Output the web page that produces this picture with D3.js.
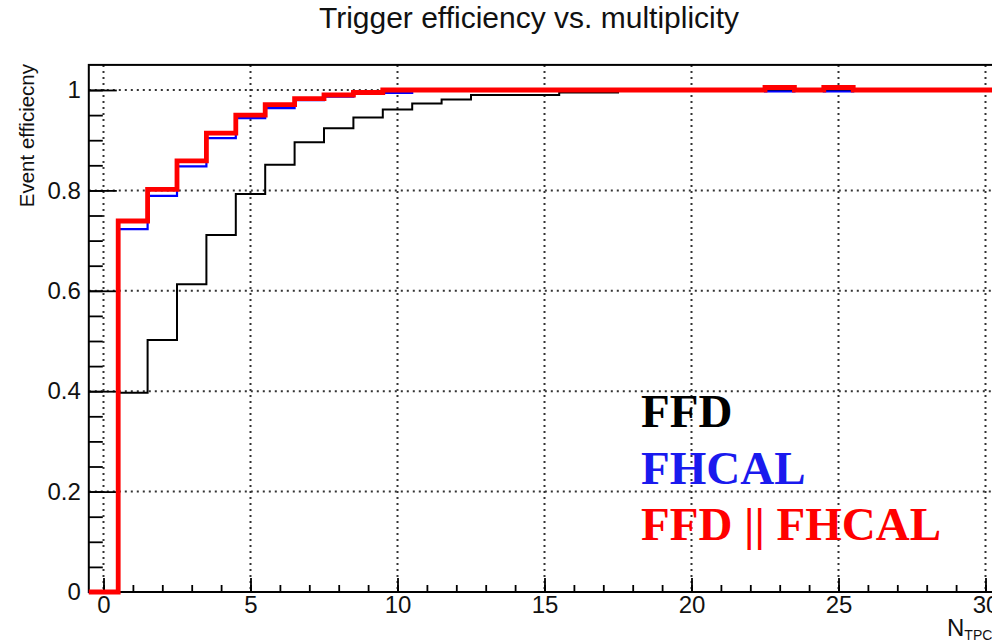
<!DOCTYPE html>
<html>
<head>
<meta charset="utf-8">
<script src="https://cdn.jsdelivr.net/npm/d3@7"></script>
<style>
  html, body { margin: 0; padding: 0; background: #fff; overflow: hidden; }
  svg { display: block; }
</style>
</head>
<body>
<svg id="chart" width="992" height="642"></svg>
<script>
// ---- data ----
const bins = d3.range(0, 31); // N_TPC bin centers 0..30 (bin width 1)
const ffd = [0, 0.397, 0.502, 0.613, 0.711, 0.793, 0.851, 0.896, 0.924, 0.945, 0.961,
  0.973, 0.981, 0.990, 0.990, 0.990, 0.995, 0.995, 1, 1, 1,
  1, 1, 1, 1, 1, 1, 1, 1, 1, 1];
const fhcal = [0, 0.723, 0.789, 0.848, 0.904, 0.944, 0.964, 0.980, 0.987, 0.992, 0.994,
  1, 1, 1, 1, 1, 1, 1, 1, 1, 1,
  1, 1, 0.997, 1, 0.997, 1, 1, 1, 1, 1];
const ffdOrFhcal = [0, 0.739, 0.802, 0.859, 0.914, 0.950, 0.971, 0.983, 0.990, 0.995, 1,
  1, 1, 1, 1, 1, 1, 1, 1, 1, 1,
  1, 1, 1.005, 1, 1.005, 1, 1, 1, 1, 1];
const xTicks = [0, 5, 10, 15, 20, 25, 30];
const xTickLabels = ["0", "5", "10", "15", "20", "25", "30"];
const yTicks = [0, 0.2, 0.4, 0.6, 0.8, 1];
const yTickLabels = ["0", "0.2", "0.4", "0.6", "0.8", "1"];
const legendNames = ["FFD", "FHCAL", "FFD || FHCAL"];
const titleText = "Trigger efficiency vs. multiplicity";
const yTitle = "Event efficiecny";

// ---- layout ----
const svg = d3.select("#chart");
const x = d3.scaleLinear().domain([0, 30]).range([103.5, 985.5]);
const y = d3.scaleLinear().domain([0, 1]).range([592, 90]);
const xLo = -0.5, xHi = 30.5, yTop = 1.05;
const sans = "'Liberation Sans', Arial, Helvetica, sans-serif";
const serif = "'Liberation Serif', 'Times New Roman', Times, serif";

// grid (dotted)
const grid = svg.append("g").attr("stroke", "#333").attr("stroke-width", 2)
  .attr("stroke-dasharray", "2,4").attr("fill", "none");
grid.selectAll("line.gx").data(xTicks).join("line").attr("class", "gx")
  .attr("x1", d => x(d)).attr("x2", d => x(d))
  .attr("y1", y(yTop)).attr("y2", y(0));
grid.selectAll("line.gy").data(yTicks.filter(d => d > 0)).join("line").attr("class", "gy")
  .attr("x1", x(xLo)).attr("x2", x(xHi))
  .attr("y1", d => y(d)).attr("y2", d => y(d));

// axes
const font = (g, size) => g.selectAll("text").attr("font-family", sans).attr("font-size", size).attr("fill", "#111");

// y minor
svg.append("g").attr("transform", `translate(${x(xLo)},0)`)
  .call(d3.axisLeft(y).tickValues(d3.range(0, 1.0001, 0.05)).tickSizeInner(-14).tickSizeOuter(0).tickFormat(""))
  .call(g => g.select(".domain").remove())
  .call(g => g.selectAll("line").attr("stroke", "#000").attr("stroke-width", 1.8));
// y major
svg.append("g").attr("transform", `translate(${x(xLo)},0)`)
  .call(d3.axisLeft(y).tickValues(yTicks).tickSizeInner(-28).tickSizeOuter(0).tickPadding(8)
    .tickFormat((d, i) => yTickLabels[i]))
  .call(g => g.select(".domain").remove())
  .call(g => g.selectAll("line").attr("stroke", "#000").attr("stroke-width", 1.8))
  .call(g => font(g, 24));
// x minor
svg.append("g").attr("transform", `translate(0,${y(0)})`)
  .call(d3.axisBottom(x).tickValues(d3.range(0, 31, 1)).tickSizeInner(-7).tickSizeOuter(0).tickFormat(""))
  .call(g => g.select(".domain").remove())
  .call(g => g.selectAll("line").attr("stroke", "#000").attr("stroke-width", 1.8));
// x major
svg.append("g").attr("transform", `translate(0,${y(0)})`)
  .call(d3.axisBottom(x).tickValues(xTicks).tickSizeInner(-14).tickSizeOuter(0).tickPadding(4)
    .tickFormat((d, i) => xTickLabels[i]))
  .call(g => g.select(".domain").remove())
  .call(g => g.selectAll("line").attr("stroke", "#000").attr("stroke-width", 1.8))
  .call(g => font(g, 24));

// frame
svg.append("rect")
  .attr("x", x(xLo)).attr("y", y(yTop))
  .attr("width", x(xHi) - x(xLo)).attr("height", y(0) - y(yTop))
  .attr("fill", "none").attr("stroke", "#000").attr("stroke-width", 2);

// histograms as steps
const line = d3.line().x(d => x(d[0])).y(d => y(d[1])).curve(d3.curveStepAfter);
function pts(vals) {
  const p = bins.map((b, i) => [b - 0.5, vals[i]]);
  p.push([bins[bins.length - 1] + 0.5, vals[vals.length - 1]]);
  return p;
}
const series = [
  { vals: ffd, color: "#000000", w: 2 },
  { vals: fhcal, color: "#0000ff", w: 2.2 },
  { vals: ffdOrFhcal, color: "#ff0000", w: 4.8 }
];
svg.append("g").selectAll("path").data(series).join("path")
  .attr("d", d => line(pts(d.vals)))
  .attr("fill", "none").attr("stroke", d => d.color).attr("stroke-width", d => d.w)
  .attr("stroke-linejoin", "miter").attr("stroke-linecap", "butt");

// title
svg.append("text").attr("x", 529).attr("y", 28).attr("text-anchor", "middle")
  .attr("font-family", sans).attr("font-size", 30).attr("fill", "#111").text(titleText);

// y title
svg.append("text").attr("transform", "translate(34,64) rotate(-90)")
  .attr("text-anchor", "end").attr("font-family", sans).attr("font-size", 20.5)
  .attr("fill", "#111").text(yTitle);

// x title
const xt = svg.append("text").attr("x", 947).attr("y", 636)
  .attr("font-family", sans).attr("font-size", 24).attr("fill", "#111");
xt.append("tspan").text("N");
xt.append("tspan").attr("font-size", 14).attr("dy", 4).text("TPC");

// legend
const legendColors = ["#000000", "#1a1aee", "#ff0000"];
svg.append("g").selectAll("text").data(legendNames).join("text")
  .attr("x", 641).attr("y", (d, i) => 427 + i * 56.7)
  .attr("font-family", serif).attr("font-weight", "bold").attr("font-size", 47)
  .attr("fill", (d, i) => legendColors[i]).text(d => d);
</script>
</body>
</html>
